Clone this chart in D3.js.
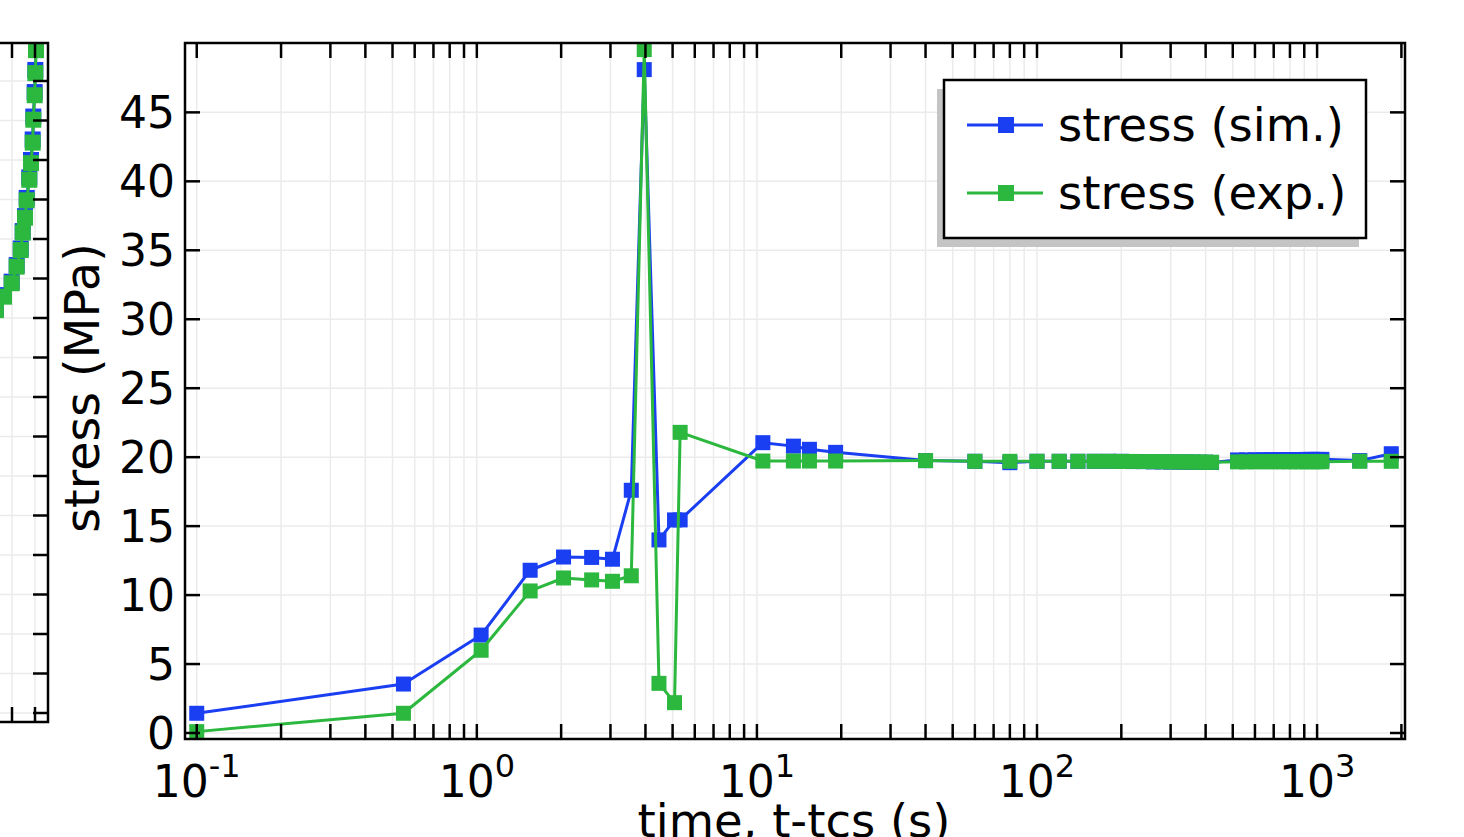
<!DOCTYPE html>
<html>
<head>
<meta charset="utf-8">
<script src="https://cdn.jsdelivr.net/npm/d3@7"></script>
<style>
  html, body { margin: 0; padding: 0; background: #fff; overflow: hidden; }
  svg { display: block; font-family: 'DejaVu Sans', sans-serif; }
</style>
</head>
<body>
<svg id="chart" width="1464" height="837"></svg>
<script>
'use strict';

// main panel: time after tcs (s), shared by both series
var times = [0.1, 0.547, 1.036, 1.55, 2.04, 2.57, 3.05, 3.56, 3.96, 4.47, 5.08, 5.32,
  10.5, 13.5, 15.4, 19.1, 40, 60, 80, 100, 120, 140,
  160, 180, 200, 220, 240, 260, 280, 300, 320, 340, 360, 380, 400, 420,
  520, 560, 600, 640, 680, 720, 760, 800, 840, 880, 920, 960, 1000, 1040,
  1420, 1840];

var stressSim = [1.43, 3.55, 7.1, 11.8, 12.76, 12.73, 12.6, 17.6, 48.1, 14.0, 15.45, 15.45,
  21.05, 20.8, 20.57, 20.35, 19.75, 19.7, 19.6, 19.7, 19.7, 19.7,
  19.7, 19.7, 19.7, 19.68, 19.68, 19.66, 19.66, 19.65, 19.65, 19.64, 19.64, 19.63, 19.63, 19.62,
  19.8, 19.8, 19.81, 19.81, 19.82, 19.82, 19.82, 19.83, 19.83, 19.83, 19.84, 19.84, 19.84, 19.84,
  19.75, 20.25];

var stressExp = [0.1, 1.43, 6.0, 10.3, 11.24, 11.1, 11.0, 11.4, 49.55, 3.6, 2.2, 21.8,
  19.72, 19.72, 19.72, 19.72, 19.75, 19.7, 19.7, 19.7, 19.7, 19.7,
  19.7, 19.7, 19.69, 19.69, 19.68, 19.68, 19.67, 19.66, 19.66, 19.65, 19.65, 19.64, 19.64, 19.63,
  19.66, 19.66, 19.67, 19.67, 19.67, 19.67, 19.67, 19.67, 19.67, 19.67, 19.67, 19.67, 19.67, 19.67,
  19.7, 19.7];

var yTicks = [0, 5, 10, 15, 20, 25, 30, 35, 40, 45];
var xMajor = [0.1, 1, 10, 100, 1000];
var xMajorExp = ['-1', '0', '1', '2', '3'];

// left (clipped) panel
var leftTime = [86.5, 88.26, 89.93, 91.02, 91.9, 92.33, 92.83, 93.2, 93.76, 94.13, 94.5, 94.63, 94.93, 95.07, 95.22, 95.4];
var leftStressExp = [51.0, 52.7, 54.4, 56.5, 58.6, 60.8, 62.7, 64.9, 67.5, 69.6, 72.2, 75.1, 78.2, 81.0, 83.9, 86.5];
var leftStressSim = [51.2, 52.9, 54.6, 56.7, 58.8, 61.0, 62.9, 65.2, 67.8, 70.0, 72.6, 75.5, 78.6, 81.4, 84.3, 86.9];
var leftYTicks = [0, 5, 10, 15, 20, 25, 30, 35, 40, 45, 50, 55, 60, 65, 70, 75, 80];
var leftXTicks = [90, 95];

var seriesNames = ['stress (sim.)', 'stress (exp.)'];
var colors = ['#1a3ef2', '#2cb83e'];

var svg = d3.select('#chart');
var grid = '#ebebeb';
var tickLen = 15;
var mk = 15;

// ---------- left panel ----------
var L = { left: -10, right: 48, top: 43, bottom: 722 };
var xL = d3.scaleLinear().domain([80, 100]).range([-34, 58]);
var yL = d3.scaleLinear().domain([0, 80]).range([713, 81]);

svg.append('clipPath').attr('id', 'clipL')
  .append('rect')
  .attr('x', L.left).attr('y', L.top)
  .attr('width', L.right - L.left).attr('height', L.bottom - L.top);

var gL = svg.append('g');
gL.selectAll('line.gy').data(leftYTicks).enter().append('line')
  .attr('class', 'gy')
  .attr('x1', L.left).attr('x2', L.right)
  .attr('y1', function (d) { return yL(d); })
  .attr('y2', function (d) { return yL(d); })
  .attr('stroke', grid).attr('stroke-width', 1.5);
gL.selectAll('line.gx').data(leftXTicks).enter().append('line')
  .attr('class', 'gx')
  .attr('x1', function (d) { return xL(d); })
  .attr('x2', function (d) { return xL(d); })
  .attr('y1', L.top).attr('y2', L.bottom)
  .attr('stroke', grid).attr('stroke-width', 1.5);

var leftSeries = [leftStressSim, leftStressExp];
var gLData = gL.append('g').attr('clip-path', 'url(#clipL)');
leftSeries.forEach(function (vals, k) {
  var pts = leftTime.map(function (t, i) { return [t, vals[i]]; });
  gLData.append('path')
    .attr('d', d3.line().x(function (d) { return xL(d[0]); }).y(function (d) { return yL(d[1]); })(pts))
    .attr('fill', 'none').attr('stroke', colors[k]).attr('stroke-width', 3);
  gLData.selectAll('rect.m' + k).data(pts).enter().append('rect')
    .attr('class', 'm' + k)
    .attr('x', function (d) { return xL(d[0]) - 8; })
    .attr('y', function (d) { return yL(d[1]) - 8; })
    .attr('width', 16).attr('height', 16)
    .attr('fill', colors[k]);
});

gL.selectAll('line.ty').data(leftYTicks).enter().append('line')
  .attr('class', 'ty')
  .attr('x1', L.right - tickLen).attr('x2', L.right)
  .attr('y1', function (d) { return yL(d); })
  .attr('y2', function (d) { return yL(d); })
  .attr('stroke', '#000').attr('stroke-width', 2.5);
gL.selectAll('line.tx').data(leftXTicks.concat(leftXTicks)).enter().append('line')
  .attr('class', 'tx')
  .attr('x1', function (d) { return xL(d); })
  .attr('x2', function (d) { return xL(d); })
  .attr('y1', function (d, i) { return i < 2 ? L.top : L.bottom; })
  .attr('y2', function (d, i) { return i < 2 ? L.top + tickLen : L.bottom - tickLen; })
  .attr('stroke', '#000').attr('stroke-width', 2.5);
gL.append('path')
  .attr('d', 'M' + L.left + ',' + L.top + 'H' + L.right + 'V' + L.bottom + 'H' + L.left)
  .attr('fill', 'none').attr('stroke', '#000').attr('stroke-width', 2.5);

// ---------- main panel ----------
var M = { left: 185, right: 1405, top: 43, bottom: 739 };
var x = d3.scaleLog().domain([0.0908, 2060]).range([M.left, M.right]);
var y = d3.scaleLinear().domain([-0.435, 50.03]).range([M.bottom, M.top]);
var xMinor = x.ticks();

svg.append('clipPath').attr('id', 'clipM')
  .append('rect')
  .attr('x', M.left).attr('y', M.top)
  .attr('width', M.right - M.left).attr('height', M.bottom - M.top);

var g = svg.append('g');

g.selectAll('line.gx').data(xMinor).enter().append('line')
  .attr('class', 'gx')
  .attr('x1', function (d) { return x(d); })
  .attr('x2', function (d) { return x(d); })
  .attr('y1', M.top).attr('y2', M.bottom)
  .attr('stroke', grid).attr('stroke-width', 1.5);
g.selectAll('line.gy').data(yTicks).enter().append('line')
  .attr('class', 'gy')
  .attr('x1', M.left).attr('x2', M.right)
  .attr('y1', function (d) { return y(d); })
  .attr('y2', function (d) { return y(d); })
  .attr('stroke', grid).attr('stroke-width', 1.5);

var gData = g.append('g').attr('clip-path', 'url(#clipM)');
[stressSim, stressExp].forEach(function (vals, k) {
  var pts = times.map(function (t, i) { return [t, vals[i]]; });
  gData.append('path')
    .attr('d', d3.line().x(function (d) { return x(d[0]); }).y(function (d) { return y(d[1]); })(pts))
    .attr('fill', 'none').attr('stroke', colors[k]).attr('stroke-width', 3)
    .attr('stroke-linejoin', 'round');
  gData.selectAll('rect.m' + k).data(pts).enter().append('rect')
    .attr('class', 'm' + k)
    .attr('x', function (d) { return x(d[0]) - mk / 2; })
    .attr('y', function (d) { return y(d[1]) - mk / 2; })
    .attr('width', mk).attr('height', mk)
    .attr('fill', colors[k]);
});

// ticks on all four sides, pointing inward
g.selectAll('line.txb').data(xMinor).enter().append('line')
  .attr('class', 'txb')
  .attr('x1', function (d) { return x(d); })
  .attr('x2', function (d) { return x(d); })
  .attr('y1', M.bottom).attr('y2', M.bottom - tickLen)
  .attr('stroke', '#000').attr('stroke-width', 2.5);
g.selectAll('line.txt').data(xMinor).enter().append('line')
  .attr('class', 'txt')
  .attr('x1', function (d) { return x(d); })
  .attr('x2', function (d) { return x(d); })
  .attr('y1', M.top).attr('y2', M.top + tickLen)
  .attr('stroke', '#000').attr('stroke-width', 2.5);
g.selectAll('line.tyl').data(yTicks).enter().append('line')
  .attr('class', 'tyl')
  .attr('x1', M.left).attr('x2', M.left + tickLen)
  .attr('y1', function (d) { return y(d); })
  .attr('y2', function (d) { return y(d); })
  .attr('stroke', '#000').attr('stroke-width', 2.5);
g.selectAll('line.tyr').data(yTicks).enter().append('line')
  .attr('class', 'tyr')
  .attr('x1', M.right).attr('x2', M.right - tickLen)
  .attr('y1', function (d) { return y(d); })
  .attr('y2', function (d) { return y(d); })
  .attr('stroke', '#000').attr('stroke-width', 2.5);

g.append('rect')
  .attr('x', M.left).attr('y', M.top)
  .attr('width', M.right - M.left).attr('height', M.bottom - M.top)
  .attr('fill', 'none').attr('stroke', '#000').attr('stroke-width', 2.5);

// tick labels
g.selectAll('text.yl').data(yTicks).enter().append('text')
  .attr('class', 'yl')
  .attr('x', 175)
  .attr('y', function (d) { return y(d) + 16; })
  .attr('text-anchor', 'end')
  .attr('font-size', 44)
  .text(function (d) { return d; });

var xl = g.selectAll('text.xl').data(xMajor).enter().append('text')
  .attr('class', 'xl')
  .attr('x', function (d) { return x(d); })
  .attr('y', 797)
  .attr('text-anchor', 'middle')
  .attr('font-size', 44);
xl.append('tspan').text('10');
xl.append('tspan')
  .attr('dy', -20)
  .attr('font-size', 32)
  .text(function (d, i) { return xMajorExp[i]; });

// axis titles
g.append('text')
  .attr('x', 794).attr('y', 837)
  .attr('text-anchor', 'middle')
  .attr('font-size', 46.5)
  .text('time, t-tcs (s)');
g.append('text')
  .attr('transform', 'translate(99,388) rotate(-90)')
  .attr('text-anchor', 'middle')
  .attr('font-size', 47.5)
  .text('stress (MPa)');

// legend
var leg = svg.append('g');
leg.append('rect')
  .attr('x', 937).attr('y', 89).attr('width', 422).attr('height', 158)
  .attr('fill', '#c4c4c4');
leg.append('rect')
  .attr('x', 944).attr('y', 80).attr('width', 422).attr('height', 158)
  .attr('fill', '#fff').attr('stroke', '#000').attr('stroke-width', 2.5);
var rows = leg.selectAll('g.row').data(seriesNames).enter().append('g')
  .attr('class', 'row')
  .attr('transform', function (d, i) { return 'translate(0,' + (125 + i * 68) + ')'; });
rows.append('line')
  .attr('x1', 967).attr('x2', 1043).attr('y1', 0).attr('y2', 0)
  .attr('stroke', function (d, i) { return colors[i]; })
  .attr('stroke-width', 3);
rows.append('rect')
  .attr('x', 998).attr('y', -8).attr('width', 16).attr('height', 16)
  .attr('fill', function (d, i) { return colors[i]; });
rows.append('text')
  .attr('x', 1058).attr('y', 16)
  .attr('font-size', 46.5)
  .text(function (d) { return d; });
</script>
</body>
</html>
